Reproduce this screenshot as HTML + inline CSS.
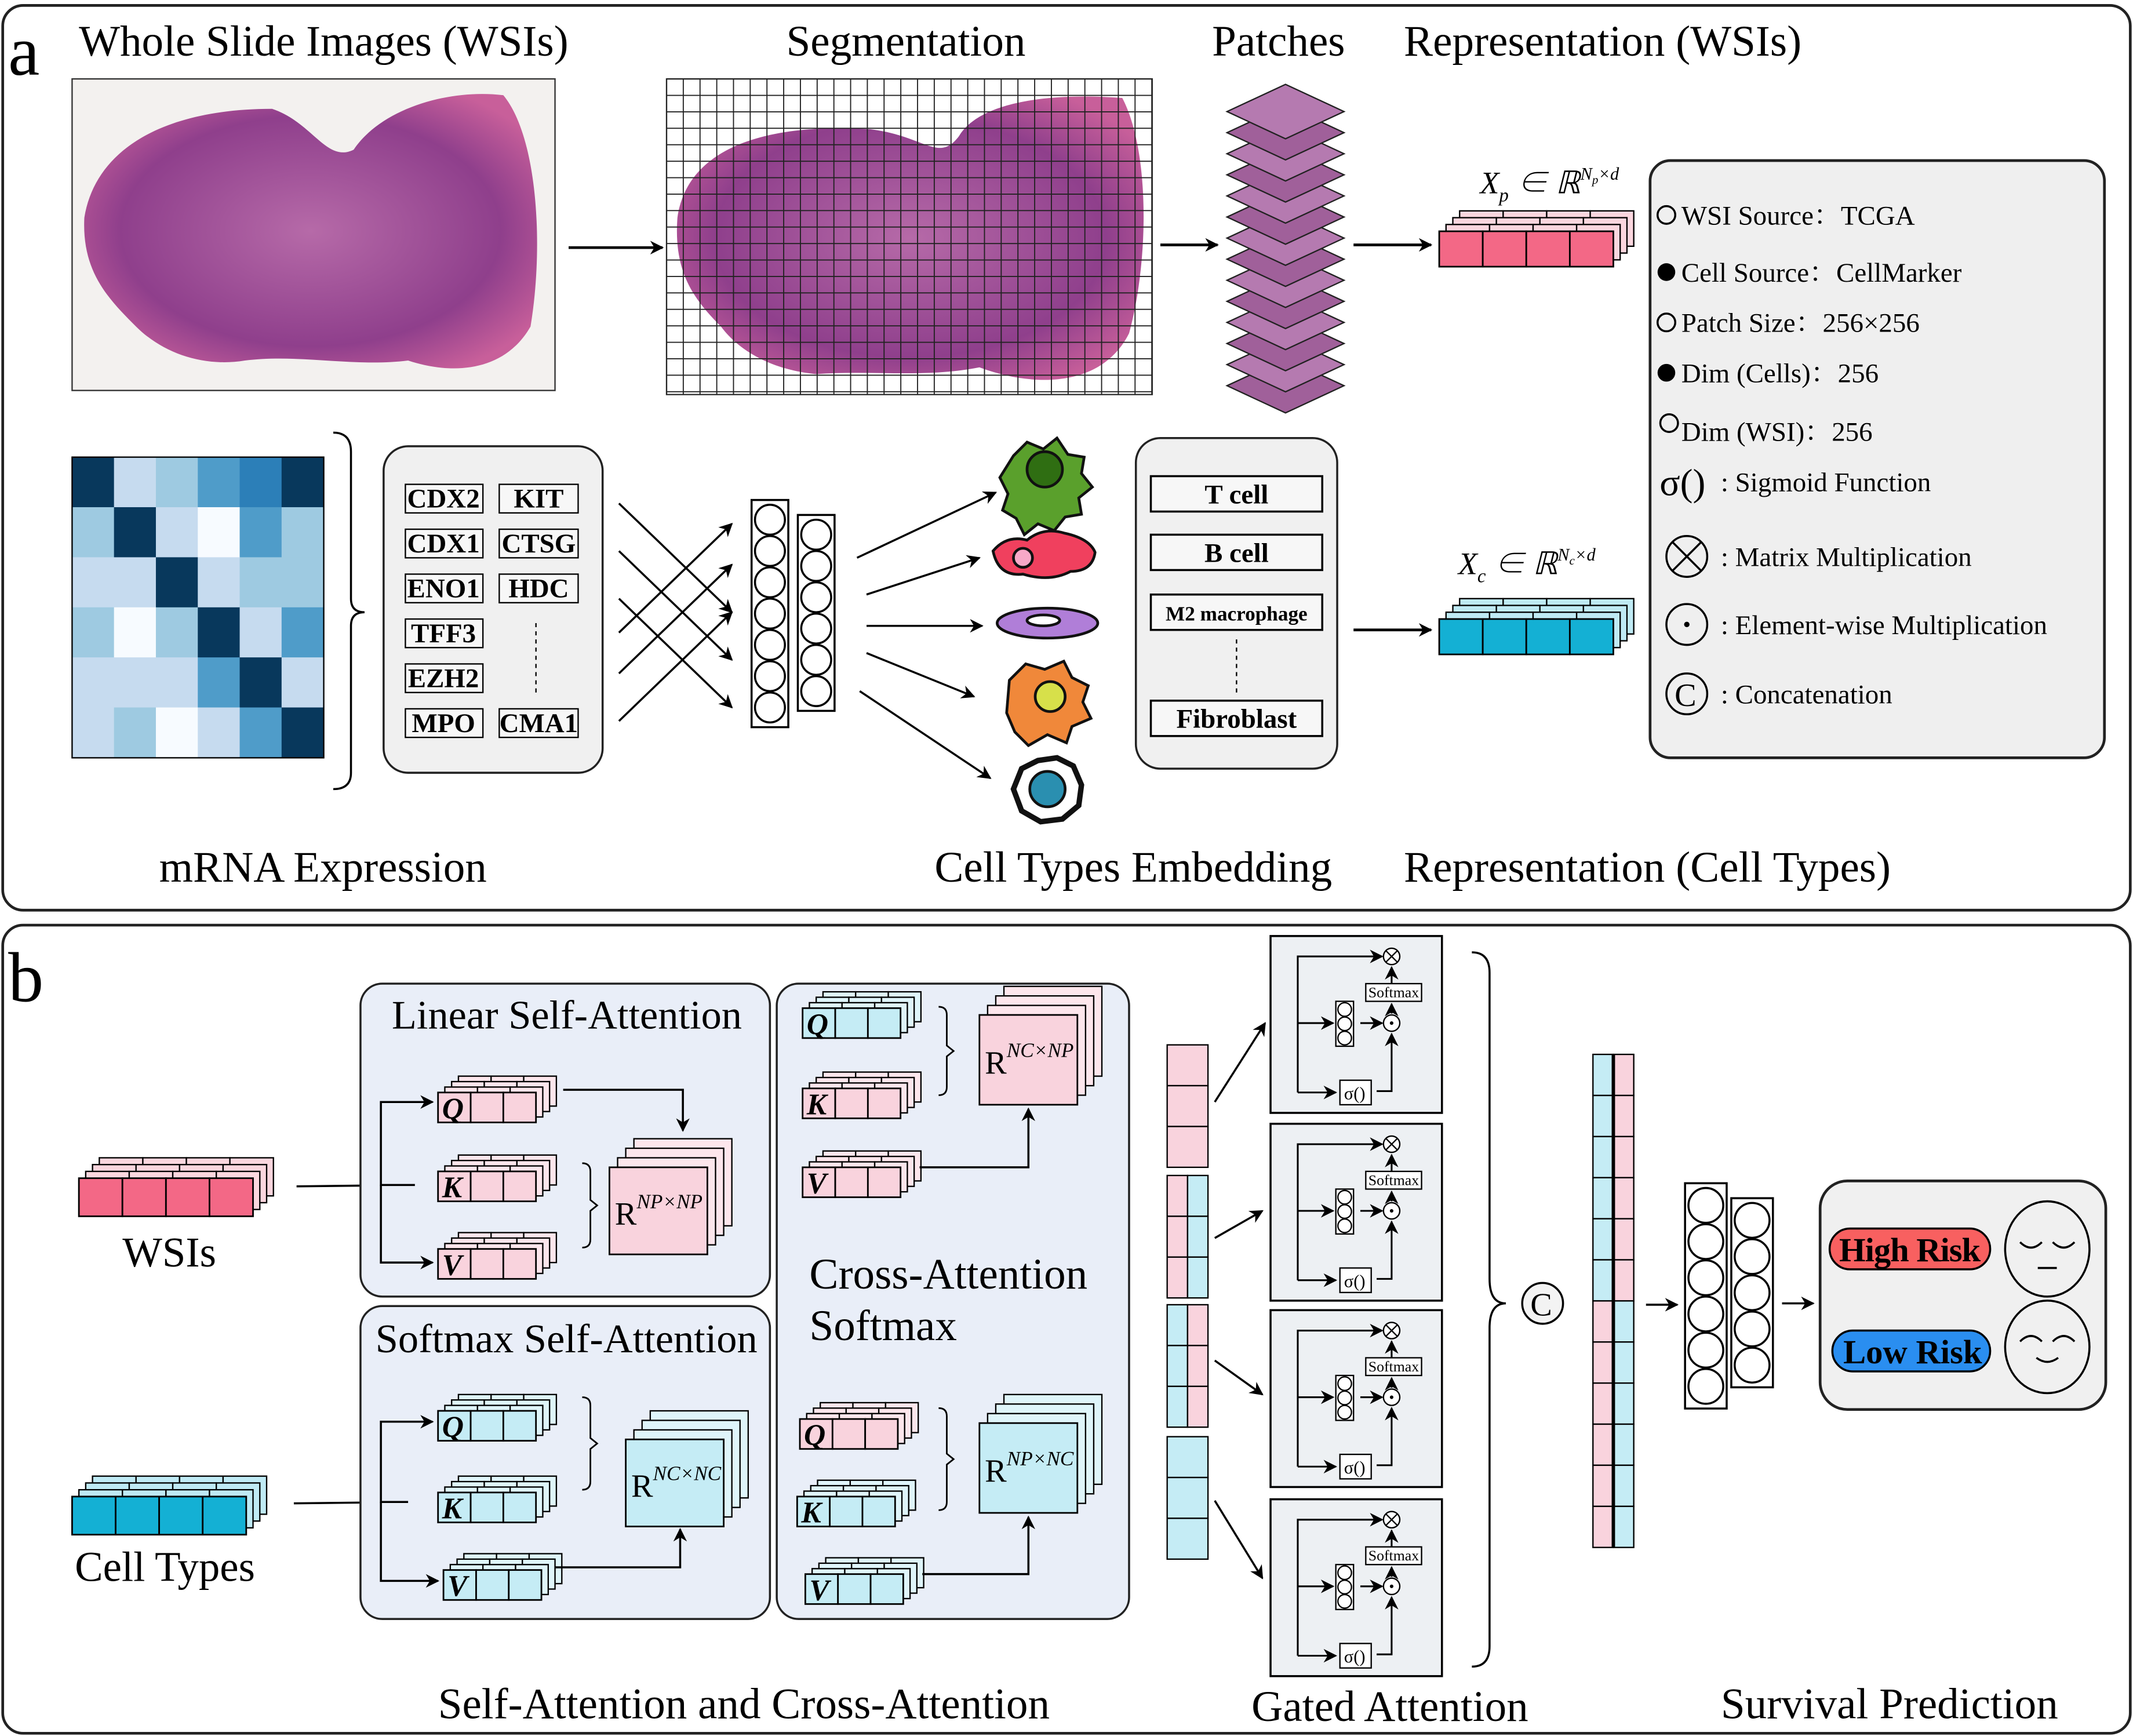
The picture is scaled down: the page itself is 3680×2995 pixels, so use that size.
<!DOCTYPE html>
<html><head><meta charset="utf-8"><style>
html,body{margin:0;padding:0;background:#fff}
svg{display:block}
svg text{font-family:"Liberation Serif","Noto Serif CJK SC",serif;fill:#000}
</style></head><body>
<svg id="s" xmlns="http://www.w3.org/2000/svg" width="3680" height="2995" viewBox="0 0 1568 1276" preserveAspectRatio="none" font-family="Liberation Serif, Noto Serif CJK SC, serif">
<defs>
<marker id="ar" markerWidth="10" markerHeight="10" refX="9" refY="5" orient="auto" markerUnits="userSpaceOnUse"><path d="M0,0 L10,5 L0,10 L3,5 z" fill="#000"/></marker>
<radialGradient id="tis" cx="50%" cy="50%" r="60%"><stop offset="0" stop-color="#b66aa8"/><stop offset="0.7" stop-color="#8f3f8c"/><stop offset="1" stop-color="#c85f9a"/></radialGradient>
</defs>
<rect width="1568" height="1276" fill="#fff"/>
<rect x="2" y="4" width="1564" height="665" rx="15" fill="#fff" stroke="#222" stroke-width="2"/>
<rect x="2" y="680" width="1564" height="594" rx="15" fill="#fff" stroke="#222" stroke-width="2"/>
<text x="6" y="55" font-size="52">a</text>
<text x="6" y="736" font-size="52">b</text>
<text x="58" y="41" font-size="32">Whole Slide Images (WSIs)</text>
<text x="578" y="41" font-size="32">Segmentation</text>
<text x="891" y="41" font-size="32">Patches</text>
<text x="1032" y="41" font-size="32">Representation (WSIs)</text>
<text x="117" y="648" font-size="32">mRNA Expression</text>
<text x="687" y="648" font-size="32">Cell Types Embedding</text>
<text x="1032" y="648" font-size="32">Representation (Cell Types)</text>

<rect x="53" y="58" width="355" height="229" fill="#f3f1ef" stroke="#333"/>
<path d="M62,160 C70,110 120,80 200,80 C230,90 240,120 260,110 C280,80 330,65 370,70 C395,100 400,180 390,240 C370,275 330,275 300,265 C260,270 220,260 180,265 C150,270 120,260 100,240 C80,220 60,200 62,160 z" fill="url(#tis)"/>
<rect x="490" y="58" width="357" height="232" fill="#fff" stroke="#333"/>
<path d="M498,160 C505,110 560,90 640,95 C680,100 690,120 705,100 C720,75 770,68 825,72 C845,110 845,190 830,245 C810,285 760,285 720,270 C680,278 640,272 600,275 C570,272 545,260 530,240 C510,220 495,200 498,160 z" fill="url(#tis)"/>
<g id="grid" stroke="#222" stroke-width="0.8"></g>
<g id="patches"></g>
<g stroke="#000" stroke-width="2" fill="none" marker-end="url(#ar)">
<line x1="418" y1="182" x2="487" y2="182"/>
<line x1="853" y1="180" x2="895" y2="180"/>
<line x1="995" y1="180" x2="1052" y2="180"/>
<line x1="995" y1="463" x2="1052" y2="463"/>
</g>
<g id="stacks"></g>
<text x="1088" y="142" font-size="23" font-style="italic">X<tspan font-size="14" dy="6">p</tspan><tspan dy="-6"> ∈ ℝ</tspan><tspan font-size="13" dy="-10">N</tspan><tspan font-size="9" dy="3">p</tspan><tspan font-size="13" dy="-3">×d</tspan></text>
<text x="1072" y="422" font-size="23" font-style="italic">X<tspan font-size="14" dy="6">c</tspan><tspan dy="-6"> ∈ ℝ</tspan><tspan font-size="13" dy="-10">N</tspan><tspan font-size="9" dy="3">c</tspan><tspan font-size="13" dy="-3">×d</tspan></text>

<rect x="1213" y="118" width="334" height="439" rx="15" fill="#efefef" stroke="#222" stroke-width="2"/>
<g font-size="20">
<circle cx="1225" cy="158" r="6.5" fill="none" stroke="#000" stroke-width="1.5"/><text x="1236" y="165" font-size="20">WSI Source：TCGA</text>
<circle cx="1225" cy="200" r="6.5" fill="#000"/><text x="1236" y="207" font-size="20">Cell Source：CellMarker</text>
<circle cx="1225" cy="237" r="6.5" fill="none" stroke="#000" stroke-width="1.5"/><text x="1236" y="244" font-size="20">Patch Size：256×256</text>
<circle cx="1225" cy="274" r="6.5" fill="#000"/><text x="1236" y="281" font-size="20">Dim (Cells)：256</text>
<circle cx="1227" cy="311" r="6.5" fill="none" stroke="#000" stroke-width="1.5"/><text x="1236" y="324" font-size="20">Dim (WSI)：256</text>
<text x="1220" y="364" font-size="28">σ()</text><text x="1265" y="361" font-size="20">:  Sigmoid Function</text>
<circle cx="1240" cy="409" r="15" fill="none" stroke="#000" stroke-width="1.5"/><path d="M1229,398 L1251,420 M1251,398 L1229,420" stroke="#000" stroke-width="1.5"/><text x="1265" y="416" font-size="20">:  Matrix Multiplication</text>
<circle cx="1240" cy="459" r="15" fill="none" stroke="#000" stroke-width="1.5"/><circle cx="1240" cy="459" r="2" fill="#000"/><text x="1265" y="466" font-size="20">:  Element-wise Multiplication</text>
<circle cx="1240" cy="510" r="15" fill="none" stroke="#000" stroke-width="1.5"/><text x="1231" y="519" font-size="24">C</text><text x="1265" y="517" font-size="20">:  Concatenation</text>
</g>

<g id="heat"></g>
<path d="M245,318 Q258,318 258,332 L258,440 Q258,450 268,450 Q258,450 258,460 L258,568 Q258,580 245,580" fill="none" stroke="#000" stroke-width="1.5"/>
<rect x="282" y="328" width="161" height="240" rx="18" fill="#f0f0f0" stroke="#222" stroke-width="1.5"/>
<g id="genes" font-size="20"></g>
<line x1="394" y1="458" x2="394" y2="510" stroke="#000" stroke-dasharray="3,3"/>
<g stroke="#000" stroke-width="1.5" fill="none" marker-end="url(#ar)">
<line x1="455" y1="370" x2="538" y2="450"/><line x1="455" y1="405" x2="538" y2="485"/><line x1="455" y1="440" x2="538" y2="520"/>
<line x1="455" y1="495" x2="538" y2="415"/><line x1="455" y1="530" x2="538" y2="450"/><line x1="455" y1="465" x2="538" y2="385"/>
<line x1="630" y1="410" x2="732" y2="362"/><line x1="637" y1="437" x2="720" y2="410"/><line x1="637" y1="460" x2="722" y2="460"/><line x1="637" y1="480" x2="716" y2="512"/><line x1="632" y1="508" x2="728" y2="572"/>
</g>
<g id="net"></g>
<g stroke="#111" stroke-width="2">
<path d="M745,335 l10,-10 l12,5 l10,-8 l8,12 l12,2 l-2,12 l8,10 l-10,8 l2,12 l-12,2 l-8,10 l-12,-5 l-10,8 l-6,-12 l-10,-6 l4,-12 l-6,-12 z" fill="#5aa02c"/>
<circle cx="768" cy="345" r="13" fill="#2f6e12"/>
<path d="M730,405 q10,-12 25,-8 q12,-10 28,-5 q18,4 22,14 q-2,14 -18,14 q-15,8 -35,2 q-18,2 -22,-17 z" fill="#f0405e"/>
<circle cx="752" cy="410" r="7" fill="#f7a8c8"/>
<ellipse cx="770" cy="458" rx="37" ry="11" fill="#b07ed8"/><ellipse cx="767" cy="456" rx="12" ry="4" fill="#fff"/>
<path d="M742,500 l12,-12 l14,4 l14,-6 l6,12 l12,6 l-4,12 l6,12 l-14,6 l-4,12 l-14,-6 l-14,8 l-10,-10 l-6,-14 z" fill="#f0883a"/>
<circle cx="772" cy="512" r="11" fill="#d7e04a"/>
<path d="M745,580 l6,-15 l12,-6 l14,-2 l12,6 l6,14 l-2,15 l-12,10 l-16,2 l-14,-8 z" fill="#fff" stroke-width="4"/>
<circle cx="770" cy="580" r="13" fill="#2a8fb0"/>
</g>
<rect x="835" y="322" width="148" height="243" rx="18" fill="#f0f0f0" stroke="#222" stroke-width="1.5"/>
<g fill="#f7f7f7" stroke="#000" stroke-width="1.5">
<rect x="846" y="350" width="126" height="26"/><rect x="846" y="393" width="126" height="26"/><rect x="846" y="437" width="126" height="26"/><rect x="846" y="515" width="126" height="26"/>
</g>
<g font-size="20" text-anchor="middle" font-weight="bold">
<text x="909" y="370">T cell</text><text x="909" y="413">B cell</text><text x="909" y="456" font-size="15">M2 macrophage</text><text x="909" y="535">Fibroblast</text>
</g>
<line x1="909" y1="470" x2="909" y2="510" stroke="#000" stroke-dasharray="3,3"/>

<text x="90" y="931" font-size="31">WSIs</text>
<text x="55" y="1162" font-size="31">Cell Types</text>
<g stroke="#000" stroke-width="1.5" fill="none" marker-end="url(#ar)">
<line x1="218" y1="872" x2="305" y2="871"/><line x1="216" y1="1105" x2="300" y2="1104"/>
</g>
<rect x="265" y="723" width="301" height="230" rx="16" fill="#e9eef8" stroke="#222" stroke-width="1.5"/>
<rect x="265" y="960" width="301" height="230" rx="16" fill="#e9eef8" stroke="#222" stroke-width="1.5"/>
<rect x="571" y="723" width="259" height="467" rx="16" fill="#e9eef8" stroke="#222" stroke-width="1.5"/>
<text x="288" y="756" font-size="30">Linear Self-Attention</text>
<text x="276" y="994" font-size="30">Softmax Self-Attention</text>
<text x="595" y="947" font-size="32">Cross-Attention</text>
<text x="595" y="985" font-size="32">Softmax</text>
<g id="attn"></g>
<g id="gated"></g>
<path d="M1082,700 Q1095,700 1095,715 L1095,940 Q1095,958 1107,958 Q1095,958 1095,976 L1095,1210 Q1095,1225 1082,1225" fill="none" stroke="#000" stroke-width="1.5"/>
<circle cx="1134" cy="958" r="15" fill="#f3f3f3" stroke="#000" stroke-width="1.5"/><text x="1125" y="967" font-size="24">C</text>
<g id="long"></g>
<g stroke="#000" stroke-width="1.5" fill="none" marker-end="url(#ar)">
<line x1="1210" y1="959" x2="1233" y2="959"/><line x1="1310" y1="958" x2="1333" y2="958"/>
</g>
<rect x="1338" y="868" width="210" height="168" rx="20" fill="#f0f0f0" stroke="#222" stroke-width="2"/>
<rect x="1345" y="903" width="118" height="30" rx="15" fill="#f86060" stroke="#000" stroke-width="1.5"/>
<rect x="1347" y="978" width="116" height="30" rx="15" fill="#2a8ef0" stroke="#000" stroke-width="1.5"/>
<text x="1404" y="927" font-size="25" font-weight="bold" text-anchor="middle" textLength="104">High Risk</text>
<text x="1406" y="1002" font-size="25" font-weight="bold" text-anchor="middle" textLength="102">Low Risk</text>
<g fill="none" stroke="#000" stroke-width="1.5">
<ellipse cx="1505" cy="918" rx="31" ry="35"/><ellipse cx="1505" cy="990" rx="31" ry="34"/>
<path d="M1485,913 q8,8 16,0 M1509,913 q8,8 16,0 M1498,932 h14 M1485,986 q8,-8 16,0 M1509,986 q8,-8 16,0 M1497,998 q8,6 16,0"/>
</g>
<text x="322" y="1263" font-size="32">Self-Attention and Cross-Attention</text>
<text x="920" y="1265" font-size="32">Gated Attention</text>
<text x="1265" y="1263" font-size="32">Survival Prediction</text>
</svg>
<script>
const NS="http://www.w3.org/2000/svg";
function el(p,t,a,txt){const e=document.createElementNS(NS,t);for(const k in a)e.setAttribute(k,a[k]);if(t==='text')e.setAttribute('font-family','Liberation Serif, serif');if(txt!==undefined)e.textContent=txt;document.getElementById(p).appendChild(e);return e;}
for(let x=490;x<=847;x+=12.3)el('grid','line',{x1:x,y1:58,x2:x,y2:290});
for(let y=58;y<=290;y+=12.1)el('grid','line',{x1:490,y1:y,x2:847,y2:y});
for(let i=13;i>=0;i--){const cy=82+i*15.5;el('patches','path',{d:`M945,${cy-20} L988,${cy} L945,${cy+20} L902,${cy} z`,fill:i%2?'#a0609a':'#b57ab0',stroke:'#222','stroke-width':1});}
function stack(g,x,y,n,w,h,front,back,layers,dx,dy){for(let l=layers;l>=1;l--){for(let i=0;i<n;i++)el(g,'rect',{x:x+i*w+l*dx,y:y+l*dy,width:w,height:h,fill:back,stroke:'#000','stroke-width':1});}for(let i=0;i<n;i++)el(g,'rect',{x:x+i*w,y:y,width:w,height:h,fill:front,stroke:'#000','stroke-width':1.2});}
const PK='#f36886',PL='#fbd6de',CY='#14b0d4',CL='#bfeaf4';
stack('stacks',1058,170,4,32,26,PK,PL,3,5,-5);
stack('stacks',1058,455,4,32,26,CY,CL,3,5,-5);
stack('stacks',58,866,4,32,28,PK,PL,3,5,-5);
stack('stacks',53,1100,4,32,28,CY,CL,3,5,-5);
const hv=[[5,1,2,3,4,5],[2,5,1,0,3,2],[1,1,5,1,2,2],[2,0,2,5,1,3],[1,1,1,3,5,1],[1,2,0,1,3,5]];
const hc=['#f7fbff','#c6dbef','#9ecae1','#4f9cc9','#2c7fb8','#08385c'];
for(let r=0;r<6;r++)for(let c=0;c<6;c++)el('heat','rect',{x:53+c*30.8,y:336+r*36.8,width:31,height:37,fill:hc[hv[r][c]]});
el('heat','rect',{x:53,y:336,width:185,height:221,fill:'none',stroke:'#000'});
const gl=[['CDX2',366],['CDX1',399],['ENO1',432],['TFF3',465],['EZH2',498],['MPO',531]];
gl.forEach(([t,y])=>{el('genes','rect',{x:298,y:y-10,width:57,height:21,fill:'#f7f7f7',stroke:'#000'});el('genes','text',{x:326,y:y+7,'text-anchor':'middle','font-size':20,'font-weight':'bold'},t);});
[['KIT',366],['CTSG',399],['HDC',432],['CMA1',531]].forEach(([t,y])=>{el('genes','rect',{x:367,y:y-10,width:58,height:21,fill:'#f7f7f7',stroke:'#000'});el('genes','text',{x:396,y:y+7,'text-anchor':'middle','font-size':20,'font-weight':'bold'},t);});
function net(g,x,y0,n,r){el(g,'rect',{x:x-r-2,y:y0-r-3,width:2*r+4,height:n*2*r+6,fill:'#fff',stroke:'#000','stroke-width':1.5});for(let i=0;i<n;i++)el(g,'circle',{cx:x,cy:y0+i*2*r,r:r-0.5,fill:'#fff',stroke:'#000','stroke-width':1.5});}
net('net',566,382,7,11.5);net('net',600,393,6,11.5);
net('long',1254,886,6,13.3);net('long',1288,897,5,13.3);
function qkv(x,y,front,back,letter){for(let l=3;l>=1;l--)for(let i=0;i<3;i++)el('attn','rect',{x:x+i*24+l*5,y:y-l*4,width:24,height:22,fill:back,stroke:'#000','stroke-width':1});for(let i=0;i<3;i++)el('attn','rect',{x:x+i*24,y:y,width:24,height:22,fill:front,stroke:'#000','stroke-width':1.2});el('attn','text',{x:x+3,y:y+19,'font-size':22,'font-weight':'bold','font-style':'italic'},letter);}
function mat(x,y,w,h,front,back,lab){for(let l=3;l>=1;l--)el('attn','rect',{x:x+l*6,y:y-l*7,width:w,height:h,fill:back,stroke:'#000','stroke-width':1});el('attn','rect',{x:x,y:y,width:w,height:h,fill:front,stroke:'#000','stroke-width':1.2});const t=el('attn','text',{x:x+4,y:y+h/2+10,'font-size':24},'R');const s=document.createElementNS(NS,'tspan');s.setAttribute('font-size',15);s.setAttribute('dy',-12);s.setAttribute('font-style','italic');s.textContent=lab;t.appendChild(s);}
function br(x,y1,y2){el('attn','path',{d:`M${x},${y1} q6,0 6,6 L${x+6},${(y1+y2)/2-4} l5,4 l-5,4 L${x+6},${y2-6} q0,6 -6,6`,fill:'none',stroke:'#000','stroke-width':1.2});}
function ar(d){el('attn','path',{d:d,fill:'none',stroke:'#000','stroke-width':1.5,'marker-end':'url(#ar)'});}
const PKF='#f9d3dd',PKB='#fde6ec',CYF='#c5ecf5',CYB='#dff5fa';
qkv(322,803,PKF,PKB,'Q');qkv(322,861,PKF,PKB,'K');qkv(322,918,PKF,PKB,'V');
mat(448,858,72,64,PKF,PKB,'NP×NP');br(428,855,917);
ar('M305,871 L280,871 L280,810 L318,810');ar('M280,871 L280,928 L318,928');ar('M414,801 L502,801 L502,831');
qkv(322,1037,CYF,CYB,'Q');qkv(322,1097,CYF,CYB,'K');qkv(326,1154,CYF,CYB,'V');
mat(460,1058,72,64,CYF,CYB,'NC×NC');br(428,1027,1095);
ar('M300,1104 L280,1104 L280,1045 L318,1045');ar('M280,1104 L280,1162 L322,1162');ar('M408,1152 L500,1152 L500,1124');
qkv(590,741,CYF,CYB,'Q');qkv(590,800,PKF,PKB,'K');qkv(590,858,PKF,PKB,'V');
mat(720,746,72,66,PKF,PKB,'NC×NP');br(690,740,805);ar('M676,858 L756,858 L756,815');
qkv(588,1043,PKF,PKB,'Q');qkv(586,1100,CYF,CYB,'K');qkv(592,1157,CYF,CYB,'V');
mat(720,1046,72,66,CYF,CYB,'NP×NC');br(690,1035,1110);ar('M678,1157 L756,1157 L756,1115');
function vcol(x,y,n,h,fl,fr,w){for(let i=0;i<n;i++){if(fr){el('attn','rect',{x:x,y:y+i*h,width:w/2,height:h,fill:fl,stroke:'#000'});el('attn','rect',{x:x+w/2,y:y+i*h,width:w/2,height:h,fill:fr,stroke:'#000'});}else el('attn','rect',{x:x,y:y+i*h,width:w,height:h,fill:fl,stroke:'#000'});}}
vcol(858,768,3,30,PKF,null,30);vcol(858,864,3,30,PKF,CYF,30);vcol(858,959,3,30,CYF,PKF,30);vcol(858,1056,3,30,CYF,null,30);
ar('M893,810 L930,752');ar('M893,910 L928,890');ar('M893,1000 L928,1025');ar('M893,1103 L928,1160');
function gate(y){const g='gated';el(g,'rect',{x:934,y:y,width:126,height:130,fill:'#edf0f3',stroke:'#000','stroke-width':1.5});
const a=(d)=>el(g,'path',{d:d,fill:'none',stroke:'#000','stroke-width':1.3,'marker-end':'url(#ar)'});
a(`M954,${y+115} L954,${y+15} L1016,${y+15}`);a(`M954,${y+64} L980,${y+64}`);a(`M954,${y+115} L982,${y+115}`);
el(g,'rect',{x:982,y:y+48,width:13,height:33,fill:'#fff',stroke:'#000'});for(let i=0;i<3;i++)el(g,'circle',{cx:988.5,cy:y+54+i*10.5,r:5,fill:'#fff',stroke:'#000'});
a(`M1000,${y+64} L1016,${y+64}`);
el(g,'circle',{cx:1023,cy:y+64,r:6,fill:'#fff',stroke:'#000'});el(g,'circle',{cx:1023,cy:y+64,r:1.3,fill:'#000'});
el(g,'circle',{cx:1023,cy:y+15,r:6,fill:'#fff',stroke:'#000'});el(g,'path',{d:`M1019,${y+11} L1027,${y+19} M1027,${y+11} L1019,${y+19}`,stroke:'#000'});
el(g,'rect',{x:1004,y:y+35,width:41,height:13,fill:'#fff',stroke:'#000'});el(g,'text',{x:1024.5,y:y+45,'text-anchor':'middle','font-size':11},'Softmax');
a(`M1023,${y+35} L1023,${y+23}`);a(`M1023,${y+57} L1023,${y+50}`);
el(g,'rect',{x:985,y:y+106,width:23,height:18,fill:'#fff',stroke:'#000'});el(g,'text',{x:988,y:y+120,'font-size':13},'σ()');
a(`M1012,${y+114} L1023,${y+114} L1023,${y+72}`);}
[688,826,963,1102].forEach(gate);
for(let i=0;i<12;i++){const y=775+i*30.2,top=i<6;el('long','rect',{x:1171,y:y,width:15,height:30.2,fill:top?CYF:PKF,stroke:'#000'});el('long','rect',{x:1186,y:y,width:15,height:30.2,fill:top?PKF:CYF,stroke:'#000'});}
el('long','line',{x1:1186,y1:775,x2:1186,y2:1137,stroke:'#000','stroke-width':2.5});
</script>
</body></html>
